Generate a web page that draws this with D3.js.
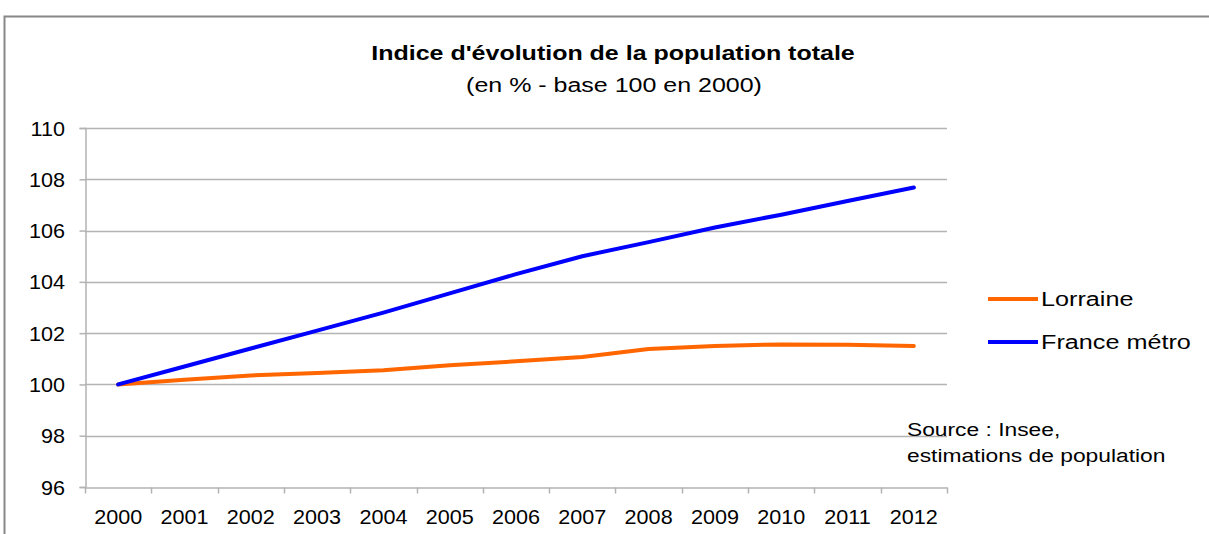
<!DOCTYPE html>
<html>
<head>
<meta charset="utf-8">
<script src="https://cdn.jsdelivr.net/npm/d3@7"></script>
<style>
  body { margin: 0; background: #fff; }
  svg text { font-family: "Liberation Sans", Arial, sans-serif; fill: #000; }
</style>
</head>
<body>
<svg id="chart" width="1209" height="534"></svg>
<script>
var years = ["2000", "2001", "2002", "2003", "2004", "2005", "2006", "2007", "2008", "2009", "2010", "2011", "2012"];
var lorraine = [100, 100.18, 100.35, 100.45, 100.55, 100.75, 100.9, 101.07, 101.38, 101.5, 101.56, 101.55, 101.5];
var franceMetro = [100, 100.7, 101.4, 102.1, 102.8, 103.55, 104.3, 105.0, 105.55, 106.12, 106.62, 107.15, 107.68];
var yTicks = [96, 98, 100, 102, 104, 106, 108, 110];

var series = [
  { name: "Lorraine", values: lorraine, color: "#ff6600" },
  { name: "France métro", values: franceMetro, color: "#0000ff" }
];

var svg = d3.select("#chart");

// the source image is a bit stretched horizontally
function stretched(sel, x0, y0, sx) {
  return sel.append("g")
    .attr("transform", "translate(" + x0 + "," + y0 + ") scale(" + sx + ",1)");
}

// chart frame
svg.append("rect")
  .attr("x", 4.5).attr("y", 16.5)
  .attr("width", 1230).attr("height", 540)
  .attr("fill", "none").attr("stroke", "#888").attr("stroke-width", 2);

var plotLeft = 85, plotRight = 947, plotTop = 128, plotBottom = 487;

var x = d3.scaleBand().domain(years).range([plotLeft, plotRight]);
var y = d3.scaleLinear().domain([96, 110]).range([plotBottom, plotTop]);

// gridlines
svg.append("g")
  .selectAll("line")
  .data(yTicks.slice(1))
  .enter()
  .append("line")
  .attr("x1", plotLeft).attr("x2", plotRight)
  .attr("y1", function(d) { return Math.round(y(d)) + 0.5; })
  .attr("y2", function(d) { return Math.round(y(d)) + 0.5; })
  .attr("stroke", "#b3b3b3").attr("stroke-width", 1.5);

// y axis
var yAxis = svg.append("g")
  .attr("transform", "translate(" + (plotLeft + 0.5) + ",0)")
  .call(d3.axisLeft(y).tickValues(yTicks).tickSize(6).tickPadding(13).tickFormat(d3.format("d")));
yAxis.select(".domain").attr("stroke", "#b3b3b3").attr("stroke-width", 1.5);
yAxis.selectAll(".tick line").attr("stroke", "#b3b3b3").attr("stroke-width", 1.5);
yAxis.selectAll(".tick text").style("font-size", "20px").attr("dy", "0.35em")
  .attr("transform", "scale(1.08,1)");

// x axis
var xAxis = svg.append("g")
  .attr("transform", "translate(0," + (plotBottom + 0.5) + ")")
  .call(d3.axisBottom(x).tickSize(0).tickPadding(22));
xAxis.select(".domain").attr("stroke", "#b3b3b3").attr("stroke-width", 1.5);
xAxis.selectAll(".tick text").style("font-size", "20px")
  .attr("transform", "scale(1.08,1)");

// x tick marks between categories
xAxis.append("g")
  .selectAll("line")
  .data(years.concat(["end"]))
  .enter()
  .append("line")
  .attr("x1", function(d, i) { return Math.round(plotLeft + i * x.step()) + 0.5; })
  .attr("x2", function(d, i) { return Math.round(plotLeft + i * x.step()) + 0.5; })
  .attr("y1", 0).attr("y2", 6)
  .attr("stroke", "#b3b3b3").attr("stroke-width", 1.5);

// lines
var line = d3.line()
  .x(function(d, i) { return x(years[i]) + x.bandwidth() / 2; })
  .y(function(d) { return y(d); });

svg.append("g")
  .selectAll("path")
  .data(series)
  .enter()
  .append("path")
  .attr("d", function(d) { return line(d.values); })
  .attr("fill", "none")
  .attr("stroke", function(d) { return d.color; })
  .attr("stroke-width", 4)
  .attr("stroke-linecap", "round")
  .attr("stroke-linejoin", "round");

// title
stretched(svg, 613, 60, 1.25).append("text")
  .attr("text-anchor", "middle")
  .style("font-size", "20px").style("font-weight", "bold")
  .text("Indice d'évolution de la population totale");
stretched(svg, 614, 92, 1.25).append("text")
  .attr("text-anchor", "middle")
  .style("font-size", "20px")
  .text("(en % - base 100 en 2000)");

// legend
var legend = svg.append("g")
  .selectAll("g")
  .data(series)
  .enter()
  .append("g")
  .attr("transform", function(d, i) { return "translate(988," + (299 + i * 43) + ")"; });
legend.append("line")
  .attr("x1", 0).attr("x2", 50).attr("y1", 0).attr("y2", 0)
  .attr("stroke", function(d) { return d.color; })
  .attr("stroke-width", 4);
legend.append("text")
  .attr("x", 53).attr("y", 0).attr("dy", "0.35em")
  .attr("transform", "translate(53,0) scale(1.2,1) translate(-53,0)")
  .style("font-size", "21px")
  .text(function(d) { return d.name; });

// source
var source = stretched(svg, 907, 436, 1.2).append("text").style("font-size", "19px");
source.append("tspan").attr("x", 0).text("Source : Insee,");
source.append("tspan").attr("x", 0).attr("dy", 26).text("estimations de population");
</script>
</body>
</html>
